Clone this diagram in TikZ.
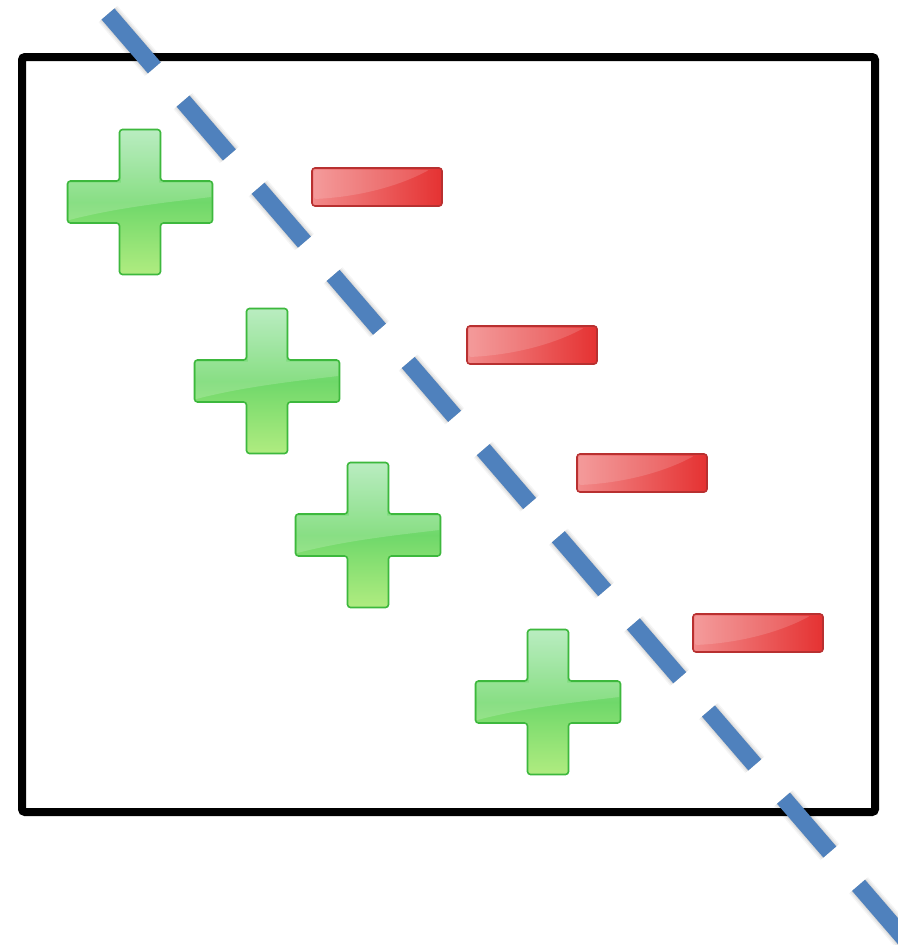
\documentclass[tikz,border=0pt]{standalone}
\usetikzlibrary{calc}
\definecolor{frameblack}{HTML}{000000}
\definecolor{dashblue}{HTML}{4F81BD}
\definecolor{plusedge}{HTML}{3DB83D}
\definecolor{plustop}{HTML}{ABE9B4}
\definecolor{plusmid}{HTML}{6FD86A}
\definecolor{plusbot}{HTML}{B0EC80}
\definecolor{minusedge}{HTML}{B83030}
\definecolor{minusleft}{HTML}{F28A8A}
\definecolor{minusright}{HTML}{E53232}
\tikzset{
  frame/.style={draw=frameblack, line width=8, rounded corners=3},
  boundary/.style={draw=dashblue, line width=17, dash pattern=on 71 off 44, line cap=butt},
  boundaryshadow/.style={draw=black, line cap=butt, dash pattern=on 71 off 44},
  pics/plussign/.style={code={
    \path[shade, top color=plustop, bottom color=plusbot, middle color=plusmid,
          draw=plusedge, line width=1.6, rounded corners=3]
      (-20.5,-72.5) -- (20.5,-72.5) -- (20.5,-21) -- (72.5,-21) -- (72.5,21)
      -- (20.5,21) -- (20.5,72.5) -- (-20.5,72.5) -- (-20.5,21) -- (-72.5,21)
      -- (-72.5,-21) -- (-20.5,-21) -- cycle;
    \begin{scope}
      \clip (-19,-71) -- (19,-71) -- (19,-19.5) -- (71,-19.5) -- (71,-5)
        .. controls (30,0) and (-20,5) .. (-71,18) -- (-71,-19.5) -- (-19,-19.5) -- cycle;
      \fill[white, opacity=0.18] (-75,-75) rectangle (75,20);
    \end{scope}
  }},
  pics/minusbar/.style={code={
    \path[shade, left color=minusleft, right color=minusright,
          draw=minusedge, line width=1.6, rounded corners=3]
      (-65,-19) rectangle (65,19);
    \fill[white, opacity=0.15, rounded corners=2]
      (-63,-17) -- (52,-17) .. controls (20,0) and (-20,10) .. (-63,12) -- cycle;
  }}
}
\begin{document}
\begin{tikzpicture}[x=1pt, y=-1pt]
  \useasboundingbox (0,0) rectangle (897,945);
  \fill[white] (0,0) rectangle (897,945);

  % end points of the separating line
  \coordinate (lineA) at (108,14);
  \coordinate (lineB) at (947,988);

  % enclosing frame
  \draw[frame] (22,57) rectangle (875,812);

  % positive samples
  \pic (p1) at (140,202) {plussign};
  \pic (p2) at (267,381) {plussign};
  \pic (p3) at (368,535) {plussign};
  \pic (p4) at (548,702) {plussign};

  % negative samples
  \pic (m1) at (377,187) {minusbar};
  \pic (m2) at (532,345) {minusbar};
  \pic (m3) at (642,473) {minusbar};
  \pic (m4) at (758,633) {minusbar};

  % soft shadow under the dashed line
  \begin{scope}[shift={(3,4)}]
    \foreach \w/\o in {25/0.04, 22/0.05, 19/0.06, 17/0.07}
      \draw[boundaryshadow, line width=\w, opacity=\o] (lineA) -- (lineB);
  \end{scope}

  % dashed separating line
  \draw[boundary] (lineA) -- (lineB);
\end{tikzpicture}
\end{document}
